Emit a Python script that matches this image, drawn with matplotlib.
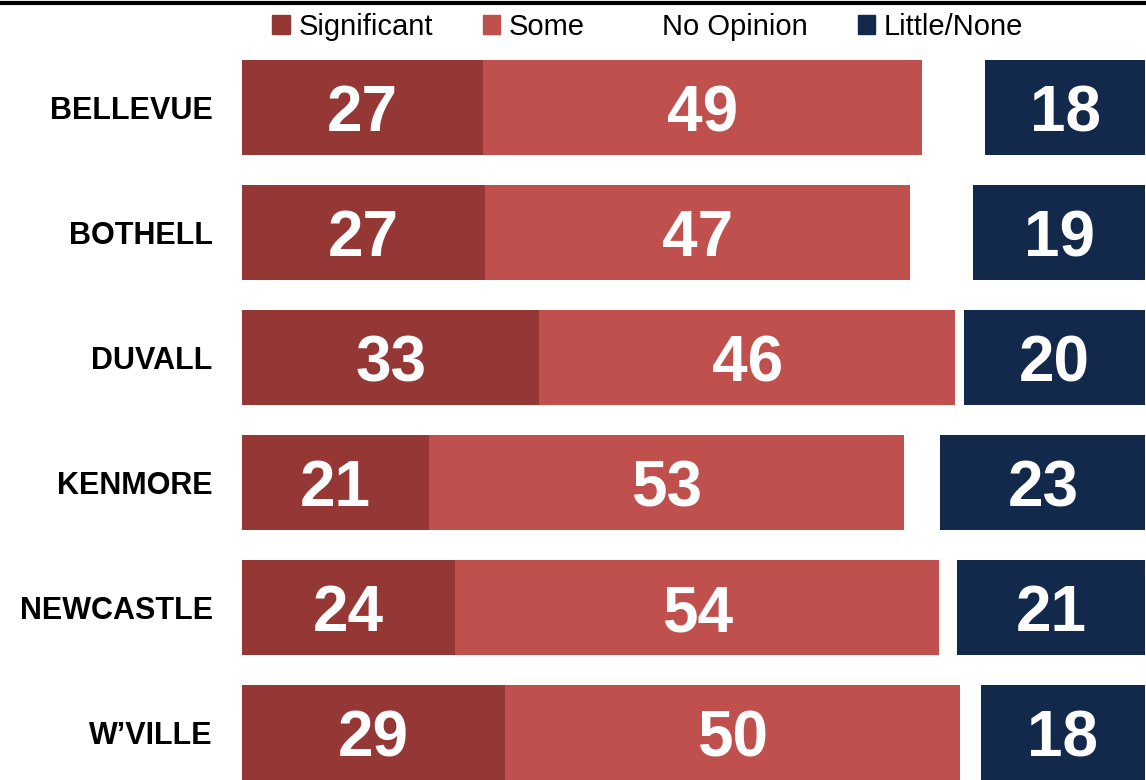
import numpy as np
import matplotlib
matplotlib.use("Agg")
import matplotlib.pyplot as plt
import matplotlib.patches as mpatches

# --- data (shares in %; labels show the rounded value) ---
cities      = ["BELLEVUE", "BOTHELL", "DUVALL", "KENMORE", "NEWCASTLE", "W\u2019VILLE"]
significant = [26.7, 26.9, 32.9, 20.7, 23.6, 29.1]
some        = [48.6, 47.1, 46.1, 52.6, 53.6, 50.4]
no_opinion  = [7.0, 7.0, 1.0, 4.0, 2.0, 2.3]
little_none = [17.8, 19.0, 20.0, 22.8, 20.8, 18.2]

series_names = ["Significant", "Some", "No Opinion", "Little/None"]
COLORS = ["#953735", "#C0504D", "#FFFFFF", "#13294B"]

plt.rcParams["font.family"] = ["Liberation Sans", "DejaVu Sans"]

fig = plt.figure(figsize=(11.46, 7.8), dpi=100)
ax = fig.add_axes([242 / 1146, 0.0, 903 / 1146, 1 - 60 / 780])

y = np.arange(len(cities))
h = 0.76
left = np.zeros(len(cities))
for vals, col, name in zip([significant, some, no_opinion, little_none], COLORS, series_names):
    vals = np.array(vals, dtype=float)
    bars = ax.barh(y, vals, left=left, height=h, color=col, label=name)
    if name != "No Opinion":
        for b, v in zip(bars, vals):
            ax.text(b.get_x() + b.get_width() / 2, b.get_y() + b.get_height() / 2 + 0.19,
                    f"{v:.0f}", ha="center", va="baseline", color="white",
                    fontsize=46, fontweight="bold")
    left += vals

ax.set_xlim(0, 100)
ax.set_ylim(len(cities) - 1 + h / 2, -h / 2)
ax.set_yticks(y)
ax.set_yticklabels(cities, fontsize=22, fontweight="bold")
ax.tick_params(axis="y", length=0, pad=21)
ax.set_xticks([])
for s in ax.spines.values():
    s.set_visible(False)

# legend along the top
handles = [mpatches.Patch(color=c, label=n) for c, n in zip(COLORS, series_names)]
fig.legend(handles=handles, loc="center left", bbox_to_anchor=(272 / 1146, 1 - 27 / 780),
           ncol=4, frameon=False, borderpad=0, borderaxespad=0,
           handlelength=0.6, handleheight=0.6, handletextpad=0.3, columnspacing=1.72,
           prop={"family": ["Liberation Sans Narrow", "Liberation Sans"], "size": 21})

# rule at the very top
fig.add_artist(plt.Line2D([0, 1], [1 - 3 / 780, 1 - 3 / 780], color="black", linewidth=3))

fig.savefig("out.png", dpi=100)
